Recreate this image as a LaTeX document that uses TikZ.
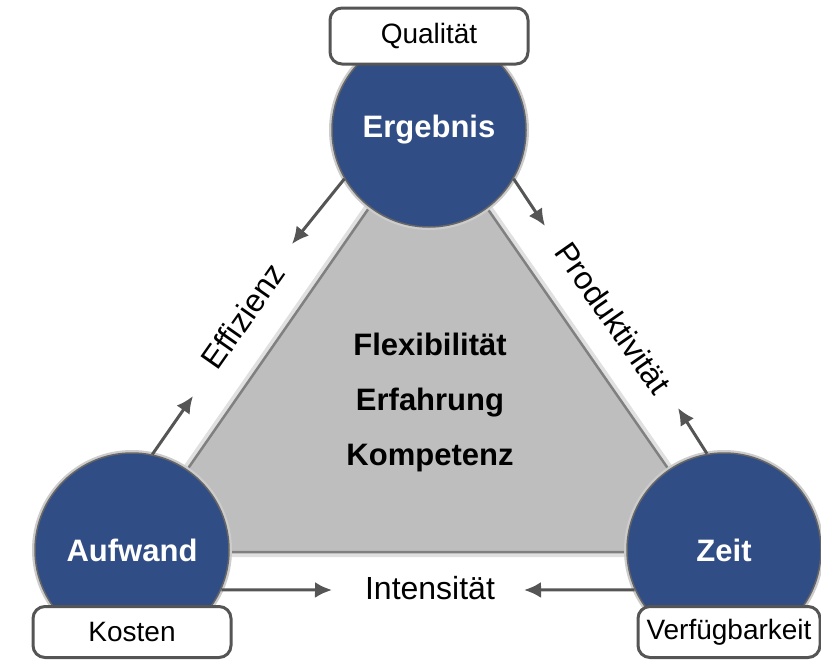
\documentclass[tikz,border=0pt]{standalone}
\usepackage{fontspec}
\setmainfont{Liberation Sans}
\usetikzlibrary{positioning,arrows.meta,shapes}

\definecolor{circblue}{RGB}{49,77,134}
\definecolor{trigray}{RGB}{190,190,190}
\definecolor{arrgray}{RGB}{85,85,85}

\begin{document}
\begin{tikzpicture}[x=1pt, y=-1pt,
	circn/.style={circle, fill=circblue, draw=black!60, line width=1.5pt, minimum size=194pt, inner sep=0pt, text=white, preaction={draw=black!20, line width=6pt}, font=\bfseries\fontsize{31}{31}\selectfont},
	boxn/.style={rectangle, rounded corners=12pt, fill=white, draw=arrgray, line width=3pt, minimum height=56pt, inner sep=0pt, font=\fontsize{28}{28}\selectfont},
	edgel/.style={font=\fontsize{32}{32}\selectfont, inner sep=0pt},
	flow/.style={draw=arrgray, line width=3pt, -{Latex[length=17pt,width=16pt]}}]

	\useasboundingbox (0,0) rectangle (821,659);

	\coordinate (terg) at (428,123);
	\coordinate (tauf) at (130,552);
	\coordinate (tzeit) at (726,552);
	\draw[draw=black!12, line width=10pt, line join=round] (terg) -- (tauf) -- (tzeit) -- cycle;
	\draw[fill=trigray, draw=black!50, line width=2.5pt] (terg) -- (tauf) -- (tzeit) -- cycle;

	\node (erg) [circn] at (429,130) {Ergebnis};
	\node (auf) [circn] at (132,550) {Aufwand};
	\node (zeit) [circn] at (724,550) {Zeit};

	\node (qual) [boxn, minimum width=198pt] at (429,36) {Qualität};
	\node (kost) [boxn, minimum width=198pt, minimum height=51pt] at (132,632) {Kosten};
	\node (verf) [boxn, minimum width=182pt, minimum height=51pt] at (729,632) {Verfügbarkeit};

	\node (core) [align=center, font=\bfseries\fontsize{31}{55}\selectfont] at (430,402) {Flexibilität\\Erfahrung\\Kompetenz};

	\node (eff) [edgel, rotate=55] at (243,316) {Effizienz};
	\node (prod) [edgel, rotate=-55] at (613,318) {Produktivität};
	\node (int) [edgel] at (430,588) {Intensität};

	\coordinate (effa) at (292,244);
	\coordinate (effb) at (193,396);
	\coordinate (proda) at (545,226);
	\coordinate (prodb) at (678,408);
	\coordinate (inta) at (332,590);
	\coordinate (intb) at (524,590);

	\draw[flow] (erg.210) -- (effa);
	\draw[flow] (auf.78) -- (effb);
	\draw[flow] (erg.330) -- (proda);
	\draw[flow] (zeit.100) -- (prodb);
	\draw[flow] (auf.-24) -- (inta);
	\draw[flow] (zeit.204) -- (intb);

\end{tikzpicture}
\end{document}
